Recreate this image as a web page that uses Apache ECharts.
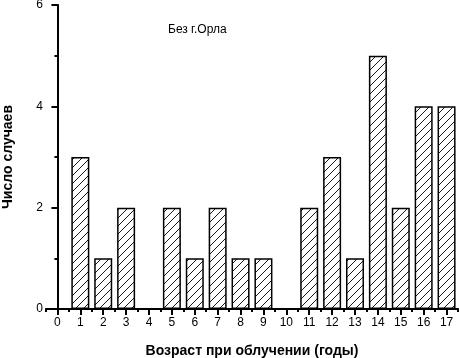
<!DOCTYPE html>
<html>
<head>
<meta charset="utf-8">
<script src="https://cdn.jsdelivr.net/npm/echarts@6/dist/echarts.min.js"></script>
<style>
  html, body { margin: 0; padding: 0; background: #fff; }
  #chart { width: 459px; height: 358px; }
</style>
</head>
<body>
<div id="chart"></div>
<script>
// возраст при облучении (годы) и число случаев
const ages = [0, 1, 2, 3, 4, 5, 6, 7, 8, 9, 10, 11, 12, 13, 14, 15, 16, 17];
const cases = [0, 3, 1, 2, 0, 2, 1, 2, 1, 1, 0, 2, 3, 1, 5, 2, 4, 4];
const minorX = [-0.5, 0.5, 1.5, 2.5, 3.5, 4.5, 5.5, 6.5, 7.5, 8.5, 9.5, 10.5, 11.5, 12.5, 13.5, 14.5, 15.5, 16.5, 17.5];
const yTicks = [0, 2, 4, 6];
const yMinor = [1, 3, 5];

const FONT = '"Liberation Sans", Arial, sans-serif';

// штриховка "/" для столбцов
function makeHatch() {
  const c = document.createElement("canvas");
  c.width = 8; c.height = 8;
  const g = c.getContext("2d");
  g.fillStyle = "#fff";
  g.fillRect(0, 0, 8, 8);
  g.strokeStyle = "#000";
  g.lineWidth = 0.9;
  g.beginPath();
  g.moveTo(0, 8); g.lineTo(8, 0);
  g.moveTo(-1, 1); g.lineTo(1, -1);
  g.moveTo(7, 9); g.lineTo(9, 7);
  g.stroke();
  return c;
}

const chart = echarts.init(document.getElementById("chart"), null, { renderer: "canvas" });

const tickStyle = { color: "#000", width: 2 };

chart.setOption({
  animation: false,
  backgroundColor: "#fff",
  textStyle: { fontFamily: FONT },
  grid: { left: 46, right: 1, top: 5, bottom: 49, outerBoundsMode: "none", containLabel: false },
  xAxis: [
    {
      type: "value", min: -0.5, max: 17.5,
      name: "Возраст при облучении (годы)",
      nameLocation: "middle", nameGap: 35,
      nameTextStyle: { color: "#000", fontSize: 14, fontWeight: "bold", fontFamily: FONT },
      axisLine: { show: true, lineStyle: { color: "#000", width: 2 } },
      axisTick: { show: true, length: 6, lineStyle: tickStyle, customValues: ages },
      axisLabel: { color: "#000", fontSize: 12, margin: 8, customValues: ages, fontFamily: FONT },
      splitLine: { show: false }
    },
    {
      type: "value", min: -0.5, max: 17.5, position: "bottom",
      axisLine: { show: false },
      axisTick: { show: true, length: 3, lineStyle: tickStyle, customValues: minorX },
      axisLabel: { show: false, customValues: minorX },
      splitLine: { show: false }
    },
    {
      type: "value", min: -0.5, max: 17.5, position: "top",
      axisLine: { show: true, lineStyle: { color: "#000", width: 1.5 } },
      axisTick: { show: false }, axisLabel: { show: false }, splitLine: { show: false }
    }
  ],
  yAxis: [
    {
      type: "value", min: 0, max: 6, interval: 2,
      name: "Число случаев",
      nameLocation: "middle", nameGap: 31, nameRotate: 90,
      nameTextStyle: { color: "#000", fontSize: 14, fontWeight: "bold", fontFamily: FONT },
      axisLine: { show: true, lineStyle: { color: "#000", width: 2 } },
      axisTick: { show: true, length: 6, lineStyle: tickStyle, customValues: yTicks },
      axisLabel: { color: "#000", fontSize: 12, margin: 3, fontFamily: FONT, customValues: yTicks },
      splitLine: { show: false }
    },
    {
      type: "value", min: 0, max: 6, position: "left",
      axisLine: { show: false },
      axisTick: { show: true, length: 3, lineStyle: tickStyle, customValues: yMinor },
      axisLabel: { show: false, customValues: yMinor },
      splitLine: { show: false }
    },
    {
      type: "value", min: 0, max: 6, position: "right",
      axisLine: { show: true, lineStyle: { color: "#000", width: 1.5 } },
      axisTick: { show: false }, axisLabel: { show: false }, splitLine: { show: false }
    }
  ],
  graphic: [
    {
      type: "text", left: 168, top: 24,
      style: { text: "Без г.Орла", fill: "#000", font: "12px " + FONT }
    }
  ],
  series: [
    {
      type: "bar",
      xAxisIndex: 0, yAxisIndex: 0,
      barWidth: 18,
      data: ages.map((a, i) => [a, cases[i]]),
      itemStyle: {
        color: { image: makeHatch(), repeat: "repeat" },
        borderColor: "#000",
        borderWidth: 1.5
      }
    }
  ]
});
</script>
</body>
</html>
